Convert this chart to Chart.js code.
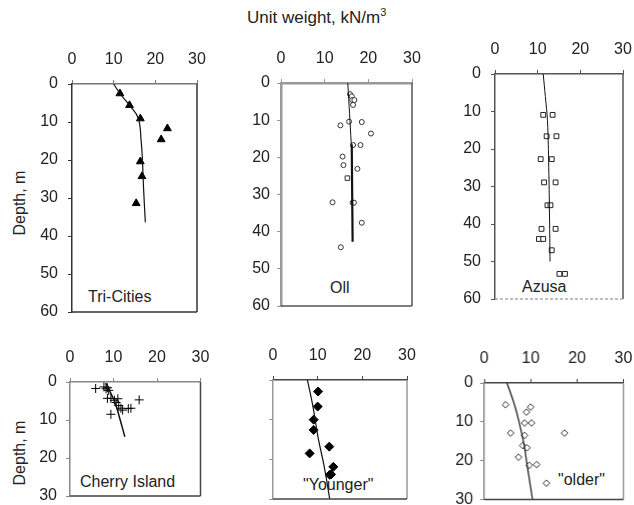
<!DOCTYPE html>
<html>
<head>
<meta charset="utf-8">
<script src="https://cdn.jsdelivr.net/npm/chart.js@4.4.0/dist/chart.umd.min.js"></script>
<style>
  body { margin: 0; background: #fff; }
  #fig { position: relative; width: 634px; height: 505px; background: #fff; overflow: hidden;
         font-family: "Liberation Sans", Arial, sans-serif; color: #222; }
  .panel { position: absolute; }
  .txt { position: absolute; font-size: 16px; line-height: 18px; white-space: nowrap; }
  .ylab { position: absolute; font-size: 16px; line-height: 18px; white-space: nowrap;
          transform: translate(-50%, -50%) rotate(-90deg); }
</style>
</head>
<body>
<div id="fig">
  <div class="txt" style="left:247px;top:9px;font-size:17px;">Unit weight, kN/m<sup style="font-size:11px;line-height:0;">3</sup></div>
  <div class="ylab" style="left:20px;top:203px;">Depth, m</div>
  <div class="ylab" style="left:20px;top:453px;">Depth, m</div>
  <div class="txt" style="left:88px;top:288px;">Tri-Cities</div>
  <div class="txt" style="left:330px;top:279px;">Oll</div>
  <div class="txt" style="left:522px;top:278px;">Azusa</div>
  <div class="txt" style="left:80px;top:473px;">Cherry Island</div>
  <div class="txt" style="left:303px;top:476px;">"Younger"</div>
  <div class="txt" style="left:558px;top:471px;">"older"</div>
</div>
<script>
// unit weight (kN/m3) vs depth (m) for each site
const weightTicks = [0, 10, 20, 30];

const triCitiesWeight = [11.5, 13.8, 16.4, 22.9, 21.4, 16.4, 16.8, 15.4];
const triCitiesDepth = [2.5, 5.6, 9.1, 11.7, 14.6, 20.4, 24.3, 31.4];
const triCitiesFitWeight = [10.0, 11.5, 13.8, 15.9, 16.6, 16.9, 17.2, 17.6];
const triCitiesFitDepth = [0, 2.5, 5.6, 9.0, 15.0, 20.0, 28.0, 36.4];

const ollWeight = [15.8, 16.2, 16.3, 16.8, 16.5, 15.6, 18.5, 13.6, 20.6, 16.5, 18.2, 14.1, 14.3, 17.5, 11.8, 16.4, 16.7, 18.5, 13.7];
const ollDepth = [3.0, 3.6, 4.6, 4.6, 5.9, 10.4, 10.5, 11.4, 13.6, 16.7, 16.7, 19.8, 22.1, 23.1, 32.1, 32.2, 32.2, 37.6, 44.2];
const ollSquareWeight = [15.2];
const ollSquareDepth = [25.6];
const ollUpperFitWeight = [15.3, 16.1];
const ollUpperFitDepth = [0, 16.5];
const ollLowerFitWeight = [16.2, 16.4];
const ollLowerFitDepth = [16.5, 42.7];

const azusaWeight = [11.3, 13.5, 12.1, 14.4, 10.7, 13.3, 11.5, 14.2, 12.3, 13.0, 10.9, 14.2, 10.3, 11.3, 13.3, 15.1, 16.4];
const azusaDepth = [10.9, 10.9, 16.6, 16.6, 22.7, 22.7, 28.9, 28.9, 35.0, 35.0, 41.3, 41.3, 44.0, 44.0, 47.0, 53.3, 53.3];
const azusaFitWeight = [11.3, 11.8, 12.3, 12.6, 12.8, 12.9];
const azusaFitDepth = [0, 6, 12.5, 25, 40, 50];

const cherryWeight = [5.9, 7.8, 8.3, 8.9, 8.6, 8.6, 9.4, 10.2, 10.6, 11.0, 11.2, 15.9, 11.7, 12.1, 14.0, 13.4, 9.4];
const cherryDepth = [1.7, 1.3, 1.8, 2.2, 1.5, 4.3, 4.3, 4.8, 5.4, 4.4, 6.2, 4.7, 6.9, 7.4, 6.9, 7.0, 8.5];
const cherryFitWeight = [8.2, 10.2, 11.3, 12.6];
const cherryFitDepth = [0.3, 5, 9, 14.4];

const youngerWeight = [10.1, 10.0, 9.1, 9.1, 12.6, 8.2, 13.5, 13.0, 12.7];
const youngerDepth = [2.9, 6.7, 10.0, 12.6, 16.8, 18.5, 21.9, 23.8, 23.9];
const youngerFitWeight = [7.7, 9.0, 10.1, 11.5, 12.7];
const youngerFitDepth = [0, 7, 14.5, 22, 30];

const olderWeight = [4.6, 10.0, 9.1, 8.7, 10.2, 5.7, 8.7, 17.3, 8.3, 9.2, 7.4, 9.7, 11.3, 13.4];
const olderDepth = [5.6, 6.2, 7.5, 10.3, 10.3, 12.9, 13.5, 12.9, 16.1, 16.7, 19.1, 21.2, 21.0, 25.8];
const olderFitWeight = [4.9, 6.5, 7.6, 8.6, 9.2, 10.4];
const olderFitDepth = [0, 5.5, 10.5, 16, 20.8, 30];

function pts(xs, ys) {
    return xs.map((x, i) => ({ x: x, y: ys[i] }));
}

function markers(xs, ys, style, radius, fill, stroke) {
    return {
        data: pts(xs, ys),
        pointStyle: style,
        pointRadius: radius,
        pointHoverRadius: radius,
        pointBackgroundColor: fill,
        pointBorderColor: stroke,
        pointBorderWidth: 1,
        showLine: false
    };
}

function curve(xs, ys, width) {
    return {
        data: pts(xs, ys),
        showLine: true,
        borderColor: '#111',
        borderWidth: width || 1.2,
        pointRadius: 0,
        tension: 0.4
    };
}

// draws the right and bottom sides of the plot box
const framePlugin = {
    id: 'frame',
    afterDraw(chart, args, opts) {
        const a = chart.chartArea;
        const ctx = chart.ctx;
        ctx.save();
        ctx.lineWidth = opts.width || 1.5;
        ctx.strokeStyle = opts.right || '#444';
        ctx.beginPath();
        ctx.moveTo(a.right, a.top);
        ctx.lineTo(a.right, a.bottom);
        ctx.stroke();
        ctx.strokeStyle = opts.bottom || '#444';
        if (opts.bottomDash) ctx.setLineDash(opts.bottomDash);
        ctx.beginPath();
        ctx.moveTo(a.left, a.bottom);
        ctx.lineTo(a.right, a.bottom);
        ctx.stroke();
        ctx.restore();
    }
};

const PAD_R = 14;
const PAD_B = 12;

function makePanel(p) {
    const fig = document.getElementById('fig');
    const div = document.createElement('div');
    div.className = 'panel';
    const w = p.box[2] - p.box[0];
    const h = p.box[3] - p.box[1];
    div.style.left = (p.box[0] - p.yw) + 'px';
    div.style.top = (p.box[1] - 40) + 'px';
    div.style.width = (w + p.yw + PAD_R) + 'px';
    div.style.height = (h + 40 + PAD_B) + 'px';
    const canvas = document.createElement('canvas');
    div.appendChild(canvas);
    fig.appendChild(div);

    const tickFont = { family: '"Liberation Sans", Arial, sans-serif', size: 16 };

    return new Chart(canvas, {
        type: 'scatter',
        data: { datasets: p.datasets },
        plugins: [framePlugin],
        options: {
            responsive: true,
            maintainAspectRatio: false,
            animation: false,
            events: [],
            layout: { autoPadding: false, padding: { top: 0, left: 0, right: PAD_R, bottom: PAD_B } },
            scales: {
                x: {
                    type: 'linear',
                    position: 'top',
                    min: weightTicks[0],
                    max: weightTicks[weightTicks.length - 1],
                    afterBuildTicks: s => { s.ticks = weightTicks.map(v => ({ value: v })); },
                    ticks: { font: tickFont, color: '#222', padding: 11 },
                    grid: { drawOnChartArea: false, drawTicks: true, tickLength: 4, color: p.topColor, lineWidth: 1 },
                    border: { color: p.topColor, width: p.topWidth || 1.5 },
                    afterFit: s => { s.height = 40; s.paddingLeft = 0; s.paddingRight = 0; }
                },
                y: {
                    type: 'linear',
                    reverse: true,
                    min: 0,
                    max: p.maxDepth,
                    ticks: { stepSize: 10, font: tickFont, color: '#222', padding: p.ypad, display: p.yLabels },
                    grid: { drawOnChartArea: false, drawTicks: true, tickLength: 4, color: p.leftColor, lineWidth: 1 },
                    border: { color: p.leftColor, width: p.leftWidth || 1.5 },
                    afterFit: s => { s.width = p.yw; s.paddingTop = 0; s.paddingBottom = 0; }
                }
            },
            plugins: {
                legend: { display: false },
                tooltip: { enabled: false },
                frame: p.frame
            }
        }
    });
}

makePanel({
    box: [72, 84, 197, 312], yw: 50, ypad: 10, yLabels: true, maxDepth: 60,
    topColor: '#777', leftColor: '#333', frame: { right: '#333', bottom: '#333' },
    datasets: [
        curve(triCitiesFitWeight, triCitiesFitDepth, 1.2),
        markers(triCitiesWeight, triCitiesDepth, 'triangle', 4.5, '#000', '#000')
    ]
});

makePanel({
    box: [281, 83, 412, 306], yw: 40, ypad: 7, yLabels: true, maxDepth: 60,
    topColor: '#999', topWidth: 2.5, leftColor: '#999', leftWidth: 2.5,
    frame: { right: '#555', bottom: '#555' },
    datasets: [
        curve(ollUpperFitWeight, ollUpperFitDepth, 1),
        curve(ollLowerFitWeight, ollLowerFitDepth, 2.2),
        markers(ollWeight, ollDepth, 'circle', 2.5, '#fff', '#333'),
        markers(ollSquareWeight, ollSquareDepth, 'rect', 3.2, '#fff', '#333')
    ]
});

makePanel({
    box: [495, 74, 623, 299], yw: 40, ypad: 10, yLabels: true, maxDepth: 60,
    topColor: '#555', leftColor: '#555',
    frame: { right: '#555', bottom: '#aaa', bottomDash: [3, 2] },
    datasets: [
        curve(azusaFitWeight, azusaFitDepth, 1),
        markers(azusaWeight, azusaDepth, 'rect', 3.4, '#fff', '#222')
    ]
});

makePanel({
    box: [69.5, 382, 200, 496], yw: 45, ypad: 9, yLabels: true, maxDepth: 30,
    topColor: '#888', leftColor: '#888',
    frame: { right: '#444', bottom: '#444' },
    datasets: [
        curve(cherryFitWeight, cherryFitDepth, 1.5),
        markers(cherryWeight, cherryDepth, 'cross', 4.5, '#000', '#000')
    ]
});

makePanel({
    box: [272.5, 379.5, 406.5, 498.5], yw: 10, ypad: 0, yLabels: false, maxDepth: 30,
    topColor: '#444', leftColor: '#999',
    frame: { right: '#999', bottom: '#444' },
    datasets: [
        curve(youngerFitWeight, youngerFitDepth, 1.2),
        markers(youngerWeight, youngerDepth, 'rectRot', 4.5, '#000', '#000')
    ]
});

makePanel({
    box: [484, 382.5, 622.5, 499], yw: 40, ypad: 7, yLabels: true, maxDepth: 30,
    topColor: '#444', leftColor: '#888',
    frame: { right: '#999', bottom: '#444' },
    datasets: [
        curve(olderFitWeight, olderFitDepth, 1.2),
        markers(olderWeight, olderDepth, 'rectRot', 3.3, '#fff', '#333')
    ]
});
</script>
</body>
</html>
